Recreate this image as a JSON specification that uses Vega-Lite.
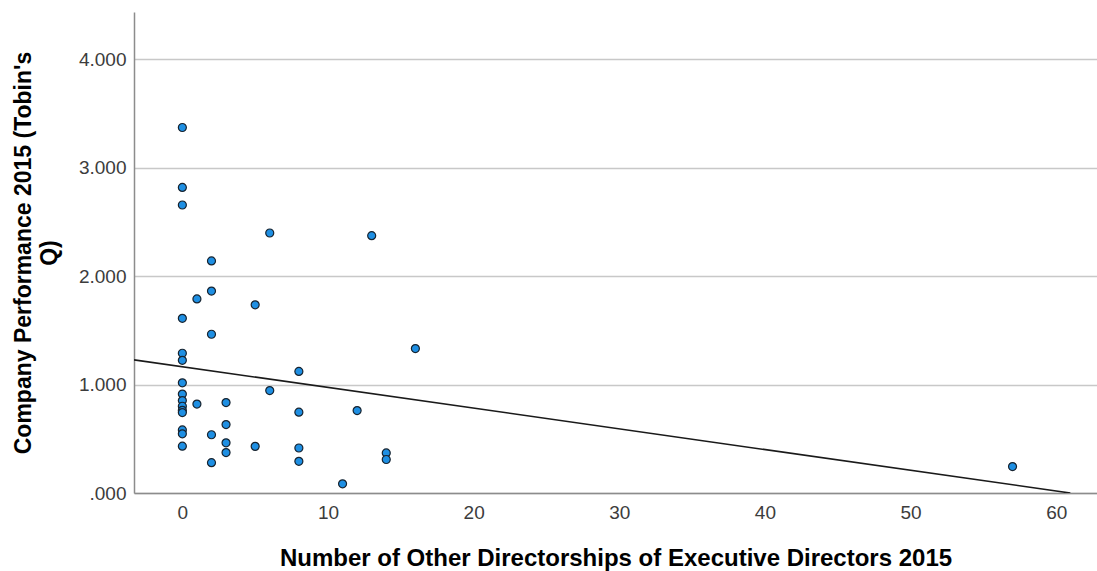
{
  "$schema": "https://vega.github.io/schema/vega-lite/v6.json",
  "autosize": "none",
  "width": 963,
  "height": 481,
  "padding": {"left": 134, "top": 12, "right": 0, "bottom": 78},
  "background": "white",
  "config": {
    "view": {"stroke": null},
    "font": "Liberation Sans",
    "axis": {
      "domainColor": "#8c8c8c",
      "domainWidth": 1.5,
      "ticks": false,
      "labelFont": "Liberation Sans",
      "labelFontSize": 19,
      "labelColor": "#3c3c3c",
      "titleFont": "Liberation Sans",
      "titleFontWeight": "bold",
      "titleFontSize": 24,
      "titleColor": "#000000"
    }
  },
  "datasets": {
    "points": [
      {"directorships": 0, "q": 3.371},
      {"directorships": 0, "q": 2.818},
      {"directorships": 0, "q": 2.656},
      {"directorships": 0, "q": 1.611},
      {"directorships": 0, "q": 1.289},
      {"directorships": 0, "q": 1.224},
      {"directorships": 0, "q": 1.016},
      {"directorships": 0, "q": 0.912},
      {"directorships": 0, "q": 0.852},
      {"directorships": 0, "q": 0.8},
      {"directorships": 0, "q": 0.762},
      {"directorships": 0, "q": 0.742},
      {"directorships": 0, "q": 0.582},
      {"directorships": 0, "q": 0.546},
      {"directorships": 0, "q": 0.432},
      {"directorships": 1, "q": 1.79},
      {"directorships": 1, "q": 0.82},
      {"directorships": 2, "q": 2.14},
      {"directorships": 2, "q": 1.862},
      {"directorships": 2, "q": 1.464},
      {"directorships": 2, "q": 0.537},
      {"directorships": 2, "q": 0.28},
      {"directorships": 3, "q": 0.834},
      {"directorships": 3, "q": 0.631},
      {"directorships": 3, "q": 0.463},
      {"directorships": 3, "q": 0.373},
      {"directorships": 5, "q": 1.735},
      {"directorships": 5, "q": 0.43},
      {"directorships": 6, "q": 2.398},
      {"directorships": 6, "q": 0.945},
      {"directorships": 8, "q": 1.121},
      {"directorships": 8, "q": 0.745},
      {"directorships": 8, "q": 0.415},
      {"directorships": 8, "q": 0.292},
      {"directorships": 11, "q": 0.085},
      {"directorships": 12, "q": 0.76},
      {"directorships": 13, "q": 2.373},
      {"directorships": 14, "q": 0.37},
      {"directorships": 14, "q": 0.309},
      {"directorships": 16, "q": 1.332},
      {"directorships": 57, "q": 0.244}
    ],
    "fit": [
      {"directorships": -3.32, "q": 1.228},
      {"directorships": 60.97, "q": 0}
    ]
  },
  "encoding": {
    "x": {
      "field": "directorships",
      "type": "quantitative",
      "scale": {"domain": [-3.32, 62.8], "nice": false, "zero": false},
      "axis": {
        "title": "Number of Other Directorships of Executive Directors 2015",
        "values": [0, 10, 20, 30, 40, 50, 60],
        "grid": false,
        "labelPadding": 10,
        "titlePadding": 24
      }
    },
    "y": {
      "field": "q",
      "type": "quantitative",
      "scale": {"domain": [0, 4.436], "nice": false},
      "axis": {
        "title": ["Company Performance 2015 (Tobin's", "Q)"],
        "values": [0, 1, 2, 3, 4],
        "labelExpr": "datum.value == 0 ? '.000' : format(datum.value, '.3f')",
        "grid": true,
        "gridColor": "#c8c8c8",
        "gridWidth": 1.5,
        "labelPadding": 8,
        "titleFontSize": 23,
        "titlePadding": 17,
        "titleLineHeight": 26
      }
    }
  },
  "layer": [
    {
      "data": {"name": "fit"},
      "mark": {"type": "line", "color": "#1a1a1a", "strokeWidth": 1.6, "clip": true}
    },
    {
      "data": {"name": "points"},
      "mark": {"type": "point", "filled": true, "shape": "circle", "size": 64, "fill": "#1e8fe3", "fillOpacity": 1, "stroke": "#17232f", "strokeWidth": 1.2, "opacity": 1}
    }
  ]
}
